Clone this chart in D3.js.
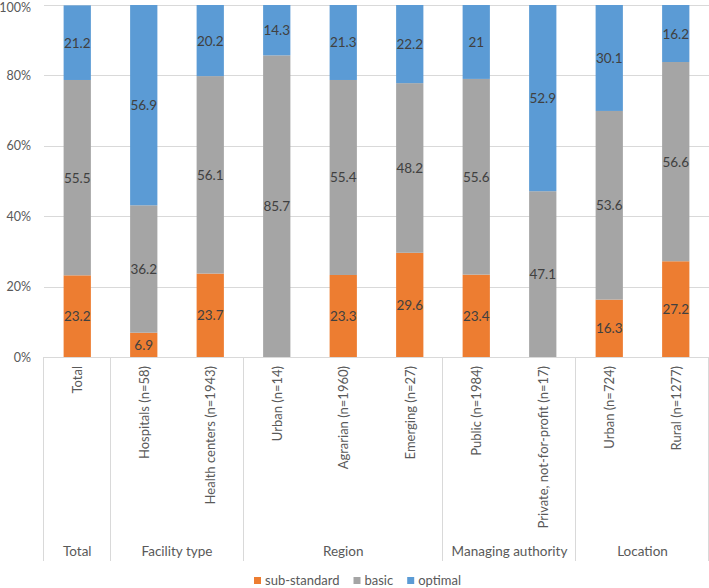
<!DOCTYPE html>
<html><head><meta charset="utf-8">
<script src="https://cdn.jsdelivr.net/npm/d3@7"></script>
<style>body{margin:0;background:#fff}svg{display:block}text{font-family:Lato,"Open Sans",sans-serif}</style>
</head><body><svg id="c" width="709" height="588"></svg>
<script>
const categories = ["Total","Hospitals (n=58)","Health centers (n=1943)","Urban (n=14)","Agrarian (n=1960)","Emerging  (n=27)","Public (n=1984)","Private, not-for-profit (n=17)","Urban (n=724)","Rural (n=1277)"];
const groups = ["Total","Facility type","Facility type","Region","Region","Region","Managing authority","Managing authority","Location","Location"];
const subStandard = [23.2,6.9,23.7,0,23.3,29.6,23.4,0,16.3,27.2];
const basic = [55.5,36.2,56.1,85.7,55.4,48.2,55.6,47.1,53.6,56.6];
const optimal = [21.2,56.9,20.2,14.3,21.3,22.2,21,52.9,30.1,16.2];
const seriesNames = ["sub-standard","basic","optimal"];
const yTicks = [0,20,40,60,80,100];

(function(){
const colors = ["#ED7D31","#A5A5A5","#5B9BD5"];
const svg = d3.select("#c");
const pl=44, pr=709, pt=5, pb=357;
const x = d3.scaleBand().domain(d3.range(categories.length)).range([pl,pr]).paddingInner(0.59).paddingOuter(0.295);
const y = d3.scaleLinear().domain([0,100]).range([pb,pt]);

svg.append("g").selectAll("line").data(yTicks).join("line")
  .attr("x1",pl).attr("x2",pr).attr("y1",d=>Math.round(y(d))+0.5).attr("y2",d=>Math.round(y(d))+0.5)
  .attr("stroke","#d9d9d9").attr("stroke-width",1);
svg.append("g").selectAll("text").data(yTicks).join("text")
  .attr("x",31).attr("y",d=>Math.max(y(d)+4.5,12)).attr("text-anchor","end").attr("font-size",12.5).attr("fill","#595959")
  .text(d=>d+"%");

const data = categories.map((c,i)=>({i, "sub-standard":subStandard[i], basic:basic[i], optimal:optimal[i]}));
const stack = d3.stack().keys(seriesNames)(data);
const g = svg.append("g");
stack.forEach((s,si)=>{
  g.append("g").selectAll("rect").data(s).join("rect")
   .attr("x",d=>x(d.data.i)).attr("width",x.bandwidth())
   .attr("y",d=>y(d[1])).attr("height",d=>y(d[0])-y(d[1]))
   .attr("fill",colors[si]);
  g.append("g").selectAll("text").data(s.filter(d=>d[1]-d[0]>0)).join("text")
   .attr("x",d=>x(d.data.i)+x.bandwidth()/2).attr("y",d=>y((d[0]+d[1])/2)+5)
   .attr("text-anchor","middle").attr("font-size",13.5).attr("fill","#404040")
   .text(d=>+(d[1]-d[0]).toFixed(1));
});

const step = x.step();
svg.append("line").attr("x1",pl).attr("x2",pr).attr("y1",357.5).attr("y2",357.5).attr("stroke","#d9d9d9");
const bounds=[0];
groups.forEach((gname,i)=>{ if(i>0 && gname!==groups[i-1]) bounds.push(i); });
bounds.push(groups.length);
svg.append("g").selectAll("line").data(bounds).join("line")
  .attr("x1",d=>Math.round(pl+d*step)-0.5).attr("x2",d=>Math.round(pl+d*step)-0.5)
  .attr("y1",357).attr("y2",561).attr("stroke","#d9d9d9");
svg.append("g").selectAll("text").data(categories).join("text")
  .attr("transform",(d,i)=>`translate(${x(i)+x.bandwidth()/2+5},366) rotate(-90)`)
  .attr("text-anchor","end").attr("font-size",13).attr("fill","#595959").text(d=>d);
for(let b=0;b<bounds.length-1;b++){
  const cx = pl+(bounds[b]+bounds[b+1])/2*step;
  svg.append("text").attr("x",cx).attr("y",556).attr("text-anchor","middle").attr("font-size",13.5).attr("fill","#595959").text(groups[bounds[b]]);
}
const legend = svg.append("g");
let lx = 254;
seriesNames.forEach((n,i)=>{
  const it = legend.append("g").attr("transform",`translate(${lx},0)`);
  it.append("rect").attr("x",0).attr("y",577).attr("width",7).attr("height",7).attr("fill",colors[i]);
  const t = it.append("text").attr("x",11).attr("y",585).attr("font-size",13).attr("fill","#595959").text(n);
  lx += 11 + t.node().getComputedTextLength() + 14;
});
})();
</script></body></html>
